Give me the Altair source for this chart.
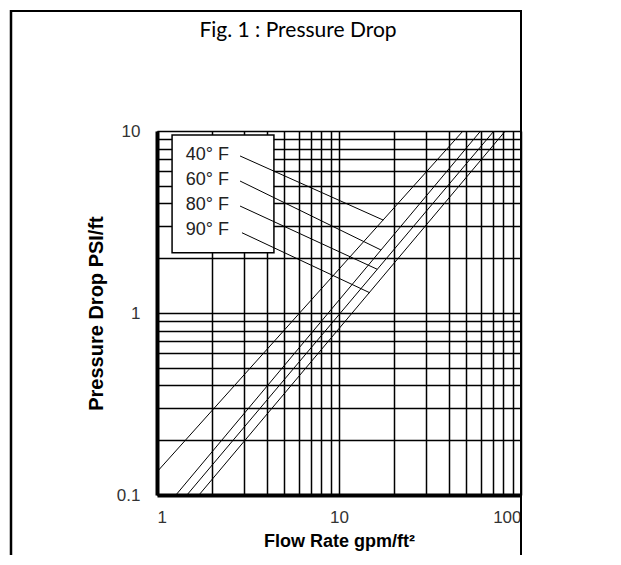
import altair as alt
import pandas as pd

# ---- data ----
series = ["40° F", "60° F", "80° F", "90° F"]
flow_start = [1.0, 1.27, 1.46, 1.70]
drop_start = [0.134, 0.1, 0.1, 0.1]
flow_end = [48.0, 60.0, 71.0, 82.0]
drop_end = [10.0, 10.0, 10.0, 10.0]

# callout (legend) box, labels and leader lines, in data units
box_flow = [1.21, 4.39]
box_drop = [2.14, 9.5]
label_flow = [1.44, 1.44, 1.44, 1.44]
label_drop = [7.38, 5.38, 3.92, 2.86]
leader_start_flow = [2.86, 2.86, 2.86, 2.93]
leader_start_drop = [7.29, 5.31, 3.87, 2.76]
leader_end_flow = [17.5, 17.0, 16.2, 14.8]
leader_end_drop = [3.24, 2.22, 1.74, 1.29]

x_grid = [1, 2, 3, 4, 5, 6, 7, 8, 9, 10, 20, 30, 40, 50, 60, 70, 80, 90, 100]
y_grid = [0.1, 0.2, 0.3, 0.4, 0.5, 0.6, 0.7, 0.8, 0.9, 1, 2, 3, 4, 5, 6, 7, 8, 9, 10]
x_labels = [1, 10, 100]
y_labels = [0.1, 1, 10]

title_text = "Fig. 1 : Pressure Drop"
x_title = "Flow Rate gpm/ft²"
y_title = "Pressure Drop PSI/ft"

# ---- tables ----
curves = pd.DataFrame({"series": series, "flow": flow_start, "drop": drop_start,
                       "flow2": flow_end, "drop2": drop_end})
box = pd.DataFrame({"flow": [box_flow[0]], "flow2": [box_flow[1]],
                    "drop": [box_drop[0]], "drop2": [box_drop[1]]})
labels = pd.DataFrame({"series": series, "flow": label_flow, "drop": label_drop})
leaders = pd.DataFrame({"flow": leader_start_flow, "drop": leader_start_drop,
                        "flow2": leader_end_flow, "drop2": leader_end_drop})
one = pd.DataFrame({"a": [0]})

xs = alt.Scale(type="log", domain=[1, 100])
ys = alt.Scale(type="log", domain=[0.1, 10])

def expr_for(vals):
    cond = " || ".join(f"datum.value == {v}" for v in vals)
    return f"({cond}) ? '' + datum.value : ''"

common_axis = dict(grid=True, gridColor="black", gridWidth=1.5, gridOpacity=1,
                   tickSize=0, domain=True, domainColor="black", domainWidth=4,
                   labelOverlap=False, labelBound=False,
                   labelFont="Liberation Sans", labelFontSize=17, labelColor="#333333",
                   titleFont="Liberation Sans", titleFontWeight="bold", titleColor="black")

xaxis = alt.Axis(values=x_grid, labelExpr=expr_for(x_labels), labelPadding=14,
                 title=x_title, titleFontSize=18, titlePadding=7, **common_axis)
yaxis = alt.Axis(values=y_grid, labelExpr=expr_for(y_labels), labelPadding=17,
                 title=y_title, titleFontSize=20, titlePadding=10, **common_axis)

X = alt.X("flow:Q", scale=xs, axis=xaxis)
Y = alt.Y("drop:Q", scale=ys, axis=yaxis)

curve_layer = alt.Chart(curves).mark_rule(color="black", strokeWidth=1).encode(
    x=X, y=Y, x2="flow2:Q", y2="drop2:Q")

box_layer = alt.Chart(box).mark_rect(fill="white", stroke="black", strokeWidth=1.5).encode(
    x=X, y=Y, x2="flow2:Q", y2="drop2:Q")

leader_layer = alt.Chart(leaders).mark_rule(color="black", strokeWidth=1).encode(
    x=X, y=Y, x2="flow2:Q", y2="drop2:Q")

label_layer = alt.Chart(labels).mark_text(
    align="left", baseline="middle", font="Liberation Sans", fontSize=18, color="#222222"
).encode(x=X, y=Y, text="series:N")

frame_layer = alt.Chart(one).mark_rect(fill="transparent", stroke="black", strokeWidth=2).encode(
    x=alt.value(-146), x2=alt.value(364), y=alt.value(-120), y2=alt.value(470))

frame_left = alt.Chart(one).mark_rule(color="black", strokeWidth=2.5).encode(
    x=alt.value(-146), y=alt.value(-121), y2=alt.value(470))

title_layer = alt.Chart(one).mark_text(
    align="center", baseline="alphabetic", font="Lato", fontSize=21, color="black"
).encode(x=alt.value(141), y=alt.value(-94), text=alt.value(title_text))

chart = alt.layer(
    curve_layer, box_layer, leader_layer, label_layer, frame_layer, frame_left, title_layer
).properties(
    width=364, height=364,
    autosize=alt.AutoSizeParams(type="none"),
    padding={"left": 149, "top": 123, "right": 80, "bottom": 60},
).configure_view(
    stroke="black", strokeWidth=3
).configure(background="white")

chart.save("out.html", embed_options={"renderer": "svg", "actions": False})
